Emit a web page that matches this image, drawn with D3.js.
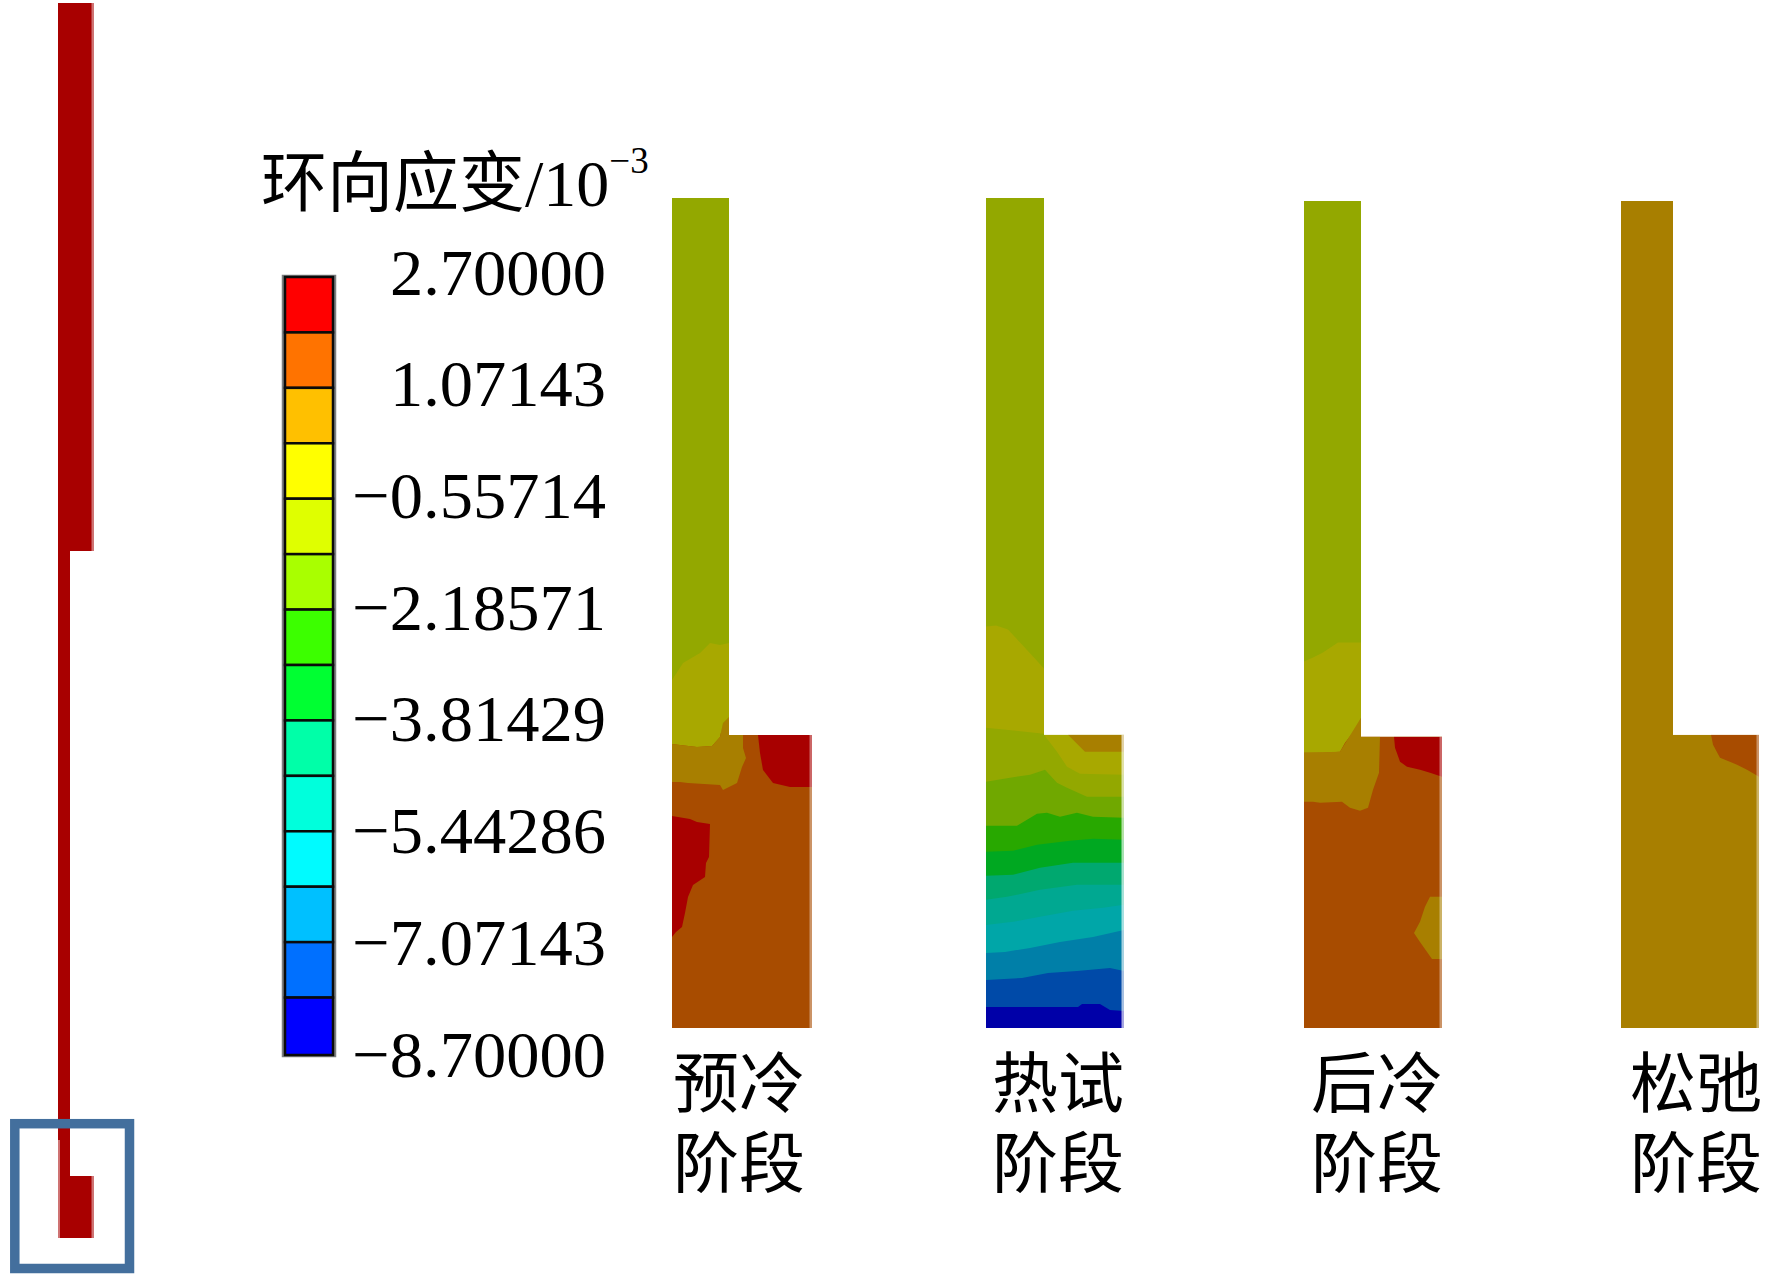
<!DOCTYPE html>
<html>
<head>
<meta charset="utf-8">
<script src="https://cdn.jsdelivr.net/npm/d3@7"></script>
<style>
  body { margin: 0; background: #fff; }
  svg { display: block; }
</style>
</head>
<body>
<script>
// colour legend, top to bottom
var legendColors = ["#ff0000", "#ff7300", "#ffc000", "#ffff00", "#dfff00", "#a9ff00", "#3cff00",
                    "#00ff32", "#00ffa8", "#00ffdc", "#00fbff", "#00c0ff", "#0070ff", "#0000ff"];
var strainTicks = [2.7, 1.07143, -0.55714, -2.18571, -3.81429, -5.44286, -7.07143, -8.7];

var stageNames = ["预冷", "热试", "后冷", "松弛"];

// contour regions of each stage, painted in order: [strain, outline] (outline in px-like units from the section's top left)
var preCool = [
  [-1.0, [[0,0],[57,0],[57,537],[140,537],[140,830],[0,830]]],
  [1.5, [[0,535],[140,535],[140,830],[0,830]]],
  [-0.1, [[0,482],[11,465],[28,455],[38,445],[48,447],[57,445],[57,519],[51,525],[48,539],[40,548],[25,549],[8,547],[0,546]]],
  [0.7, [[0,546],[8,547],[25,549],[40,548],[48,539],[51,525],[57,519],[57,537],[71,537],[71,550],[74,560],[70,569],[65,585],[51,592],[48,587],[16,585],[8,584],[0,584]]],
  [2.3, [[86,537],[140,537],[140,589],[118,589],[101,585],[91,572],[88,555]]],
  [2.3, [[0,618],[18,621],[25,624],[38,626],[37,659],[34,665],[33,679],[21,687],[16,699],[13,715],[10,729],[4,734],[0,739]]]
];
var hotTest = [
  [-1.0, [[0,0],[58,0],[58,536],[138,536],[138,829],[0,829]]],
  [-0.1, [[0,428],[10,427],[22,431],[35,445],[47,458],[58,470],[58,535],[20,531],[0,529]]],
  [-0.1, [[58,536],[138,536],[138,576],[94,575],[81,568],[71,553]]],
  [0.7, [[82,536],[89,543],[99,553],[138,553],[138,536]]],
  [-1.8, [[0,583],[24,579],[44,576],[59,571],[71,584],[81,589],[101,598],[138,598],[138,829],[0,829]]],
  [-2.6, [[0,627],[31,627],[41,621],[51,615],[61,614],[74,618],[91,614],[107,618],[138,619],[138,829],[0,829]]],
  [-3.4, [[0,653],[27,652],[51,646],[84,642],[107,640],[138,641],[138,829],[0,829]]],
  [-4.2, [[0,677],[27,676],[54,669],[87,664],[138,664],[138,829],[0,829]]],
  [-5.0, [[0,701],[21,698],[54,691],[91,686],[138,686],[138,829],[0,829]]],
  [-5.8, [[0,726],[27,723],[54,718],[87,712],[117,709],[138,706],[138,829],[0,829]]],
  [-6.6, [[0,754],[19,753],[44,749],[74,743],[107,738],[138,731],[138,829],[0,829]]],
  [-7.5, [[0,781],[36,779],[62,774],[91,772],[124,769],[138,772],[138,829],[0,829]]],
  [-8.3, [[0,808],[92,808],[96,805],[114,805],[124,811],[138,812],[138,829],[0,829]]]
];
var postCool = [
  [-1.0, [[0,0],[57,0],[57,535],[138,535],[138,826],[0,826]]],
  [1.5, [[0,533],[138,533],[138,826],[0,826]]],
  [-0.1, [[0,460],[9,456],[19,451],[34,441],[57,441],[57,516],[51,528],[41,541],[36,550],[19,551],[0,551]]],
  [0.7, [[0,551],[36,550],[57,516],[57,535],[76,535],[75,571],[69,588],[64,606],[56,609],[46,606],[38,600],[16,601],[9,600],[0,600]]],
  [2.3, [[90,535],[138,535],[138,575],[126,571],[116,568],[103,565],[96,560],[91,546]]],
  [0.7, [[138,695],[126,695],[121,705],[116,720],[110,731],[116,740],[128,757],[138,757]]]
];
var relax = [
  [0.7, [[0,0],[52,0],[52,533],[138,533],[138,826],[0,826]]],
  [1.5, [[90,533],[138,533],[138,575],[126,568],[116,563],[99,556],[92,543]]]
];

// the whole component on the far left, with its detail box
var componentOutline = [[0,0],[36,0],[36,548],[12,548],[12,1173],[36,1173],[36,1235],[0,1235]];

var stages = [preCool, hotTest, postCool, relax];
var stageBox = [
  {left: 672, top: 198, width: 140, height: 830, edge: 537, name: 739},
  {left: 986, top: 198, width: 138, height: 829, edge: 536, name: 1058},
  {left: 1304, top: 201, width: 138, height: 826, edge: 535, name: 1377},
  {left: 1621, top: 201, width: 138, height: 826, edge: 533, name: 1696}
];
var baseY = 1028;

var svg = d3.select("body").append("svg").attr("width", 1772).attr("height", 1276);
var serif = "'Liberation Serif', 'Times New Roman', serif";
var cjk = "'Noto Sans CJK SC', sans-serif";

// Panels dim the legend colours to about two thirds
var strainColor = d3.scaleQuantize().domain([-8.7, 2.7]).range(legendColors.slice().reverse());
function dimmed(v) {
  var c = d3.rgb(strainColor(v));
  return d3.rgb(c.r * 0.66, c.g * 0.66, c.b * 0.66).formatHex();
}

// Component
var compX = d3.scaleLinear().domain([0, 36]).range([58, 94]);
var compY = d3.scaleLinear().domain([0, 1235]).range([3, 1238]);
var compLine = d3.line().x(function(d){ return compX(d[0]); }).y(function(d){ return compY(d[1]); }).curve(d3.curveLinearClosed);
svg.append("path").attr("d", compLine(componentOutline)).attr("fill", "#a80000");
svg.append("rect").attr("x", compX(33.5)).attr("y", compY(0)).attr("width", 2.5).attr("height", compY(548) - compY(0))
   .attr("fill", "#fff").attr("opacity", 0.45);
svg.append("rect").attr("x", compX(33.5)).attr("y", compY(1173)).attr("width", 2.5).attr("height", compY(1235) - compY(1173))
   .attr("fill", "#fff").attr("opacity", 0.45);
svg.append("rect").attr("x", compX(0)).attr("y", compY(1137)).attr("width", 2).attr("height", compY(1235) - compY(1137))
   .attr("fill", "#fff").attr("opacity", 0.45);
svg.append("rect").attr("x", 14.8).attr("y", 1123.7).attr("width", 114.7).attr("height", 144.8)
   .attr("fill", "none").attr("stroke", "#436f9d").attr("stroke-width", 9.5);

// Legend
var cellY = d3.scaleBand().domain(legendColors).range([277, 1053]);
svg.append("rect").attr("x", 283.5).attr("y", 276.5).attr("width", 51).attr("height", 779)
   .attr("fill", "none").attr("stroke", "#7d7f80").attr("stroke-width", 3.5);
svg.selectAll(".cell")
   .data(legendColors)
   .enter()
     .append("rect")
     .attr("class", "cell")
     .attr("x", 285)
     .attr("y", function(d){ return cellY(d); })
     .attr("width", 48)
     .attr("height", function(d, i){ return i == legendColors.length - 1 ? cellY.bandwidth() + 2 : cellY.bandwidth(); })
     .attr("fill", function(d){ return d; })
     .attr("stroke", "#0a0a0a")
     .attr("stroke-width", 2.5);

var tickY = d3.scaleLinear().domain([2.7, -8.7]).range([272, 1054]);
var tickAxis = d3.axisLeft(tickY).tickValues(strainTicks).tickSize(0).tickPadding(0).tickFormat(d3.format(".5f"));
var tickG = svg.append("g").attr("transform", "translate(606,0)").call(tickAxis);
tickG.select(".domain").remove();
tickG.selectAll("text")
     .attr("dy", 22)
     .attr("fill", "#000")
     .style("font-family", serif)
     .style("font-size", "66.5px");

// Legend title
var title = svg.append("text").attr("x", 261).attr("y", 206).attr("fill", "#000");
title.append("tspan").style("font-family", cjk).style("font-size", "66px").text("环向应变");
title.append("tspan").style("font-family", serif).style("font-size", "66px").text("/10");
title.append("tspan").attr("dy", -33).style("font-family", serif).style("font-size", "37px").text("−3");

// Stage sections
stages.forEach(function(regions, k) {
  var box = stageBox[k];
  var x = d3.scaleLinear().domain([0, box.width]).range([box.left, box.left + box.width]);
  var y = d3.scaleLinear().domain([0, box.height]).range([box.top, baseY]);
  var line = d3.line().x(function(d){ return x(d[0]); }).y(function(d){ return y(d[1]); }).curve(d3.curveLinearClosed);

  svg.append("clipPath").attr("id", "shape" + k)
     .append("path").attr("d", line(regions[0][1]));

  var g = svg.append("g").attr("clip-path", "url(#shape" + k + ")");
  g.selectAll("path")
   .data(regions)
   .enter()
     .append("path")
     .attr("d", function(d){ return line(d[1]); })
     .attr("fill", function(d){ return dimmed(d[0]); });

  // pale sliver on the outer edge
  svg.append("rect")
     .attr("x", x(box.width) - 2.5)
     .attr("y", y(box.edge))
     .attr("width", 2.5)
     .attr("height", y(box.height) - y(box.edge))
     .attr("fill", "#fff")
     .attr("opacity", k == 1 ? 0.65 : 0.4);

  // two-line label
  var name = svg.append("text").attr("text-anchor", "middle").attr("fill", "#000")
     .style("font-family", cjk).style("font-size", "66px");
  name.append("tspan").attr("x", box.name).attr("y", 1107).text(stageNames[k]);
  name.append("tspan").attr("x", box.name).attr("y", 1187).text("阶段");
});
</script>
</body>
</html>
